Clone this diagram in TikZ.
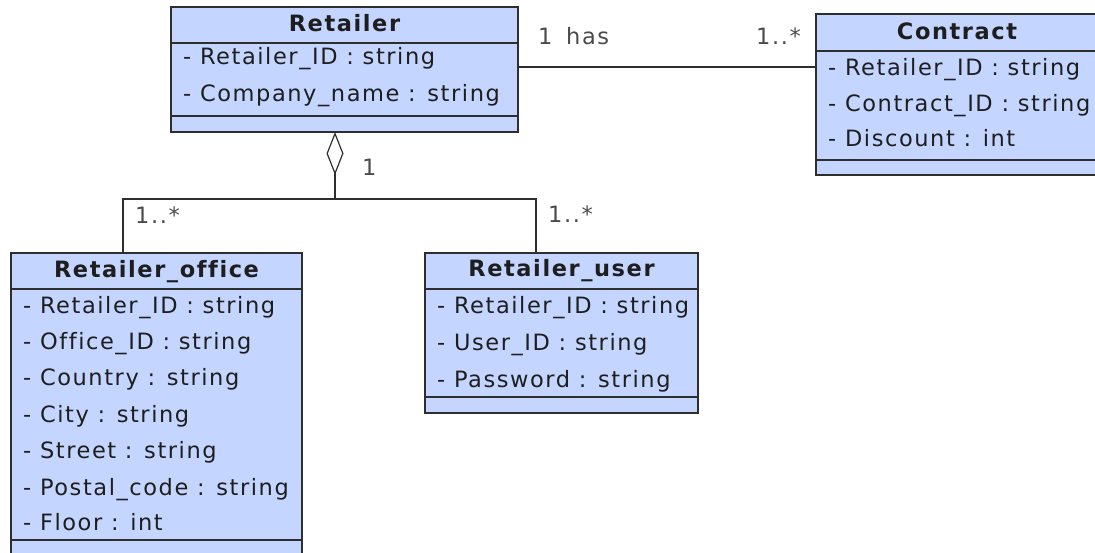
\documentclass[tikz,border=0pt]{standalone}
\usepackage{fontspec}
\setmainfont{DejaVu Sans}[LetterSpace=7, Ligatures={NoCommon}]
\usetikzlibrary{arrows.meta}

\definecolor{classfill}{HTML}{C4D5FF}
\definecolor{classline}{HTML}{2E2E2E}
\definecolor{txt}{HTML}{1E1E1E}
\definecolor{lbl}{HTML}{4A4A4A}

\tikzset{
  classbox/.style={draw=classline, fill=classfill, line width=1.6pt,
    inner sep=0pt, outer sep=0pt, anchor=north west},
  divider/.style={draw=classline, line width=1.6pt},
  title/.style={anchor=base, inner sep=0pt, text=txt,
    font=\fontsize{22.5}{26}\selectfont\bfseries},
  attr/.style={anchor=base west, inner sep=0pt, text=txt,
    font=\fontsize{22.5}{26}\selectfont},
  mult/.style={anchor=base west, inner sep=0pt, text=lbl,
    font=\fontsize{22.5}{26}\selectfont},
  link/.style={draw=classline, line width=1.6pt},
}

\begin{document}
\begin{tikzpicture}[x=1pt, y=-1pt]
  \useasboundingbox (0,0) rectangle (1095,553);
  \clip (0,0) rectangle (1095,553);

  % ---- Retailer ----
  \node[classbox, minimum width=347pt, minimum height=125pt] (retailer) at (171,7) {};
  \draw[divider] (171,43) -- (518,43);
  \draw[divider] (171,116) -- (518,116);
  \node[title] (retailerT) at (344.5,32) {Retailer};
  \node[attr] (retailerA1) at (183,65) {- Retailer\_ID : string};
  \node[attr] (retailerA2) at (183,102) {- Company\_name : string};

  % ---- Contract ----
  \node[classbox, minimum width=282pt, minimum height=161pt] (contract) at (816,14) {};
  \draw[divider] (816,51) -- (1098,51);
  \draw[divider] (816,160) -- (1098,160);
  \node[title] (contractT) at (957,40) {Contract};
  \node[attr] (contractA1) at (828,76) {- Retailer\_ID : string};
  \node[attr] (contractA2) at (828,112) {- Contract\_ID : string};
  \node[attr] (contractA3) at (828,147) {- Discount : int};

  % ---- Retailer_office ----
  \node[classbox, minimum width=291pt, minimum height=303pt] (office) at (11,253) {};
  \draw[divider] (11,289) -- (302,289);
  \draw[divider] (11,540) -- (302,540);
  \node[title] (officeT) at (156.5,278) {Retailer\_office};
  \node[attr] (officeA1) at (23,313) {- Retailer\_ID : string};
  \node[attr] (officeA2) at (23,349) {- Office\_ID : string};
  \node[attr] (officeA3) at (23,385) {- Country : string};
  \node[attr] (officeA4) at (23,422) {- City : string};
  \node[attr] (officeA5) at (23,458) {- Street : string};
  \node[attr] (officeA6) at (23,495) {- Postal\_code : string};
  \node[attr] (officeA7) at (23,530) {- Floor : int};

  % ---- Retailer_user ----
  \node[classbox, minimum width=273pt, minimum height=160pt] (user) at (425,253) {};
  \draw[divider] (425,289) -- (698,289);
  \draw[divider] (425,397) -- (698,397);
  \node[title] (userT) at (561.5,277) {Retailer\_user};
  \node[attr] (userA1) at (437,314) {- Retailer\_ID : string};
  \node[attr] (userA2) at (437,350) {- User\_ID : string};
  \node[attr] (userA3) at (437,387) {- Password : string};

  % ---- association Retailer -- Contract ----
  \coordinate (hasY) at (0,67);
  \draw[link] (retailer.east |- hasY) -- (contract.west |- hasY);
  \node[mult] (hasL) at (538,45) {1};
  \node[mult] (hasName) at (566,45) {has};
  \node[mult] (hasR) at (756,45) {1..*};

  % ---- aggregation Retailer <>-- office / user ----
  \coordinate (aggTop) at (335,132);
  \coordinate (fork) at (335,199);
  \coordinate (officeIn) at (123,253);
  \coordinate (userIn) at (536,253);
  \draw[link, {Diamond[open, fill=white, length=43pt, width=17pt, line width=1.2pt]}-] (aggTop) -- (fork);
  \draw[link] (fork) -| (officeIn);
  \draw[link] (fork) -| (userIn);
  \node[mult] (aggOne) at (362,176) {1};
  \node[mult] (officeM) at (135,224) {1..*};
  \node[mult] (userM) at (548,223) {1..*};
\end{tikzpicture}
\end{document}
